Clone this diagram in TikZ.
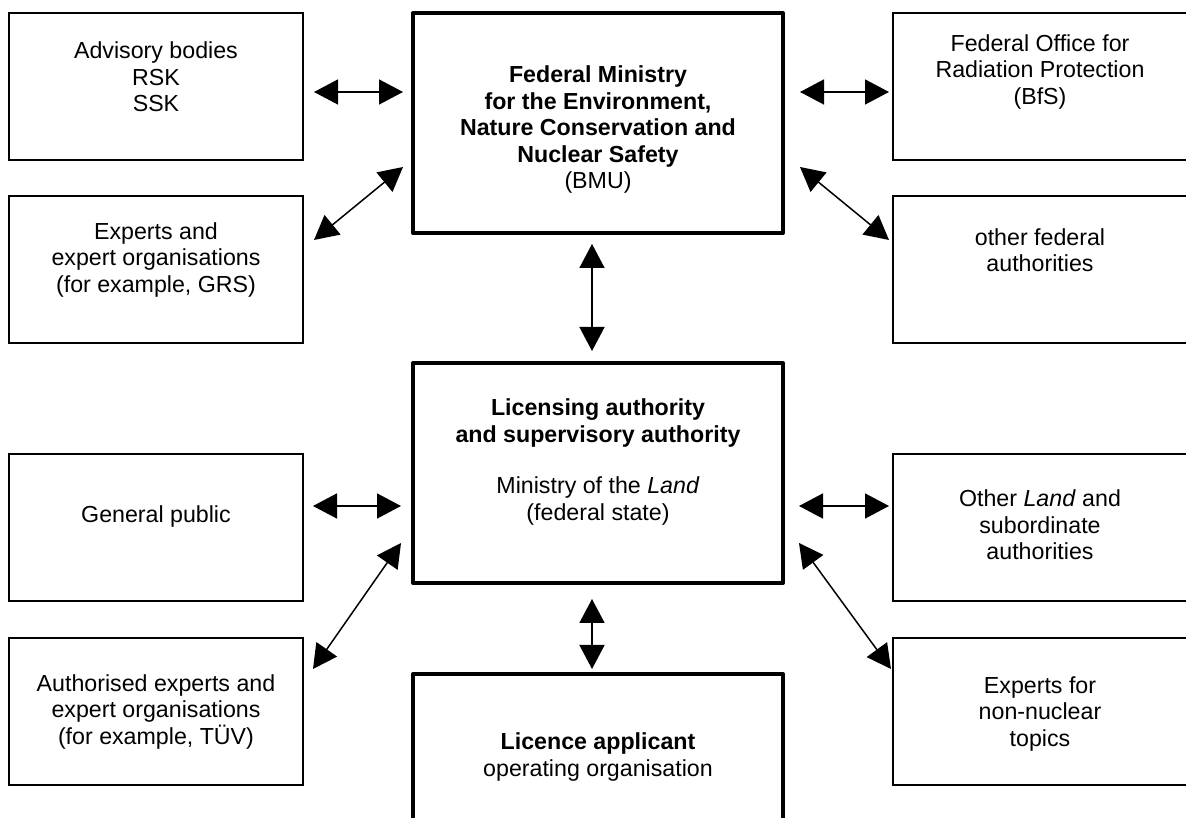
\documentclass[tikz,border=0pt]{standalone}
\usepackage{fontspec}
\setmainfont{Liberation Sans}
\usetikzlibrary{arrows.meta}

\tikzset{
	box/.style={draw,line width=2pt,minimum width=294pt,minimum height=147pt,inner sep=0pt},
	bigbox/.style={draw,line width=4pt,line join=round,minimum width=370pt,minimum height=220pt,inner sep=0pt},
	txt/.style={align=center,inner sep=0pt,font=\fontsize{23.2pt}{26.5pt}\selectfont},
	link/.style={line width=1.5pt,{Triangle[length=24pt,width=25pt]}-{Triangle[length=24pt,width=25pt]}}
}

\begin{document}
\begin{tikzpicture}[x=1pt,y=1pt]
	\clip (0,0) rectangle (1186,818);
	
	% boxes
	\node[bigbox] (bmu) at (598,695) {};
	\node[bigbox] (lic) at (598,345) {};
	\node[bigbox] (app) at (598,34) {};
	\node[box] (adv) at (156,731.5) {};
	\node[box] (exp) at (156,548) {};
	\node[box] (pub) at (156,290) {};
	\node[box] (aut) at (156,106) {};
	\node[box] (bfs) at (1040,731.5) {};
	\node[box] (ofa) at (1040,548) {};
	\node[box] (oth) at (1040,290) {};
	\node[box] (nnt) at (1040,106) {};
	
	% texts
	\node[txt] (bmu-t) at ([yshift=-7pt]bmu.center) {\textbf{Federal Ministry}\\\textbf{for the Environment,}\\\textbf{Nature Conservation and}\\\textbf{Nuclear Safety}\\(BMU)};
	\node[txt] (lic-t) at ([yshift=11pt]lic.center) {\textbf{Licensing authority}\\\textbf{and supervisory authority}\\[25pt]Ministry of the \textit{Land}\\(federal state)};
	\node[txt] (app-t) at ([yshift=27pt]app.center) {\textbf{Licence applicant}\\operating organisation};
	\node[txt] (adv-t) at ([yshift=9.5pt]adv.center) {Advisory bodies\\RSK\\SSK};
	\node[txt] (exp-t) at ([yshift=10pt]exp.center) {Experts and\\expert organisations\\(for example, GRS)};
	\node[txt] (pub-t) at ([yshift=11pt]pub.center) {General public};
	\node[txt] (aut-t) at (aut.center) {Authorised experts and\\expert organisations\\(for example, TÜV)};
	\node[txt] (bfs-t) at ([yshift=14.5pt]bfs.center) {Federal Office for\\Radiation Protection\\(BfS)};
	\node[txt] (ofa-t) at ([yshift=20pt]ofa.center) {other federal\\authorities};
	\node[txt] (oth-t) at ([yshift=3pt]oth.center) {Other \textit{Land} and\\subordinate\\authorities};
	\node[txt] (nnt-t) at ([yshift=-2pt]nnt.center) {Experts for\\non-nuclear\\topics};
	
	% connectors
	\draw[link] ([xshift=10pt,yshift=-5.5pt]adv.east) -- ([xshift=-8pt,yshift=31pt]bmu.west);
	\draw[link] ([xshift=15pt,yshift=31pt]bmu.east) -- ([xshift=-3pt,yshift=-5.5pt]bfs.west);
	\draw[link] ([xshift=-8pt,yshift=-44pt]bmu.west) -- ([xshift=10pt,yshift=30pt]exp.east);
	\draw[link] ([xshift=15pt,yshift=-44pt]bmu.east) -- ([xshift=-3pt,yshift=30pt]ofa.west);
	\draw[link] ([xshift=-6pt,yshift=-9pt]bmu.south) -- ([xshift=-6pt,yshift=10pt]lic.north);
	\draw[link] ([xshift=9pt,yshift=22pt]pub.east) -- ([xshift=-10pt,yshift=-33pt]lic.west);
	\draw[link] ([xshift=-10pt,yshift=-70pt]lic.west) -- ([xshift=9pt,yshift=43pt]aut.east);
	\draw[link] ([xshift=14pt,yshift=-33pt]lic.east) -- ([xshift=-3pt,yshift=22pt]oth.west);
	\draw[link] ([xshift=14pt,yshift=-70pt]lic.east) -- ([xshift=-1pt,yshift=43pt]nnt.west);
	\draw[link] ([xshift=-6pt,yshift=-14pt]lic.south) -- ([xshift=-6pt,yshift=3pt]app.north);
\end{tikzpicture}
\end{document}
